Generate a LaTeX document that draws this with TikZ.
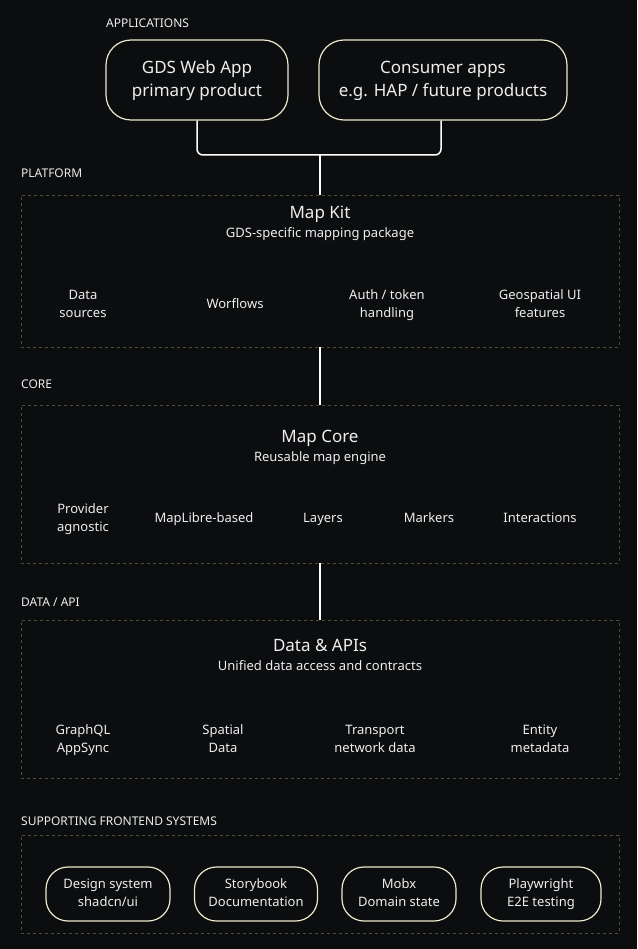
\documentclass[tikz,border=0pt]{standalone}
\usepackage{fontspec}
\setmainfont{Noto Sans}
\definecolor{bg}{HTML}{0C0D0F}
\definecolor{cream}{HTML}{EEE8CC}
\definecolor{dash}{HTML}{4C5030}
\definecolor{txt}{HTML}{EEEEEE}
\begin{document}
\begin{tikzpicture}[x=1pt,y=-1pt,
  lbl/.style={anchor=west,text=txt,font=\fontsize{12}{14}\selectfont,inner sep=0},
  grp/.style={draw=dash,dashed,line width=0.8pt},
  ttl/.style={text=txt,font=\fontsize{17}{20}\selectfont,inner sep=0},
  sub/.style={text=txt,font=\fontsize{13}{15}\selectfont,inner sep=0},
  itm/.style={text=txt,font=\fontsize{13}{18}\selectfont,align=center,inner sep=0},
  app/.style={draw=cream,line width=1.2pt,rounded corners=25pt,text=txt,align=center,font=\fontsize{17}{23}\selectfont},
  pill/.style={draw=cream,line width=1.2pt,rounded corners=22pt,text=txt,align=center,font=\fontsize{13}{18}\selectfont},
  conn/.style={draw=white,line width=1.5pt,rounded corners=6pt}]
\fill[bg] (0,0) rectangle (637,949);
\useasboundingbox (0,0) rectangle (637,949);
\node[lbl] (lapp) at (106,23) {APPLICATIONS};
\node[app,minimum width=182pt,minimum height=80pt] (gds) at (197,80) {\strut GDS Web App\\primary product\strut};
\node[app,minimum width=248pt,minimum height=80pt] (cons) at (443,80) {\strut Consumer apps\\e.g. HAP / future products\strut};
\node[lbl] (lplat) at (21,173) {PLATFORM};
\node[grp,minimum width=598pt,minimum height=152pt] (plat) at (320,271) {};
\node[ttl] (mk) at (320,215) {Map Kit\strut};
\node[sub] (mks) at (320,235) {GDS-specific mapping package\strut};
\node[itm] (p1) at (83,305) {\strut Data\\sources\strut};
\node[itm] (p2) at (235,305) {\strut Worflows\strut};
\node[itm] (p3) at (387,305) {\strut Auth / token\\handling\strut};
\node[itm] (p4) at (540,305) {\strut Geospatial UI\\features\strut};
\coordinate (j) at (320,155);
\draw[conn] (gds.south) |- (j);
\draw[conn] (cons.south -| 441,0) |- (j);
\draw[conn] (j) -- (plat.north);
\node[lbl] (lcore) at (21,384) {CORE};
\node[grp,minimum width=598pt,minimum height=158pt] (core) at (320,484) {};
\node[ttl] (mc) at (320,438) {Map Core\strut};
\node[sub] (mcs) at (320,458) {Reusable map engine\strut};
\node[itm] (c1) at (83,519) {\strut Provider\\agnostic\strut};
\node[itm] (c2) at (204,519) {\strut MapLibre-based\strut};
\node[itm] (c3) at (323,519) {\strut Layers\strut};
\node[itm] (c4) at (429,519) {\strut Markers\strut};
\node[itm] (c5) at (540,519) {\strut Interactions\strut};
\draw[conn] (plat.south) -- (core.north);
\node[lbl] (ldata) at (21,602) {DATA / API};
\node[grp,minimum width=598pt,minimum height=158pt] (data) at (320,699) {};
\node[ttl] (da) at (320,647) {Data \& APIs\strut};
\node[sub] (das) at (320,667) {Unified data access and contracts\strut};
\node[itm] (d1) at (83,740) {\strut GraphQL\\AppSync\strut};
\node[itm] (d2) at (223,740) {\strut Spatial\\Data\strut};
\node[itm] (d3) at (375,740) {\strut Transport\\network data\strut};
\node[itm] (d4) at (540,740) {\strut Entity\\metadata\strut};
\draw[conn] (core.south) -- (data.north);
\node[lbl] (lsup) at (21,821) {SUPPORTING FRONTEND SYSTEMS};
\node[grp,minimum width=598pt,minimum height=98pt] (sup) at (320,884) {};
\node[pill,minimum width=124pt,minimum height=54pt] (s1) at (108,894) {\strut Design system\\shadcn/ui\strut};
\node[pill,minimum width=123pt,minimum height=54pt] (s2) at (256,894) {\strut Storybook\\Documentation\strut};
\node[pill,minimum width=114pt,minimum height=54pt] (s3) at (399,894) {\strut Mobx\\Domain state\strut};
\node[pill,minimum width=120pt,minimum height=54pt] (s4) at (541,894) {\strut Playwright\\E2E testing\strut};
\end{tikzpicture}
\end{document}
